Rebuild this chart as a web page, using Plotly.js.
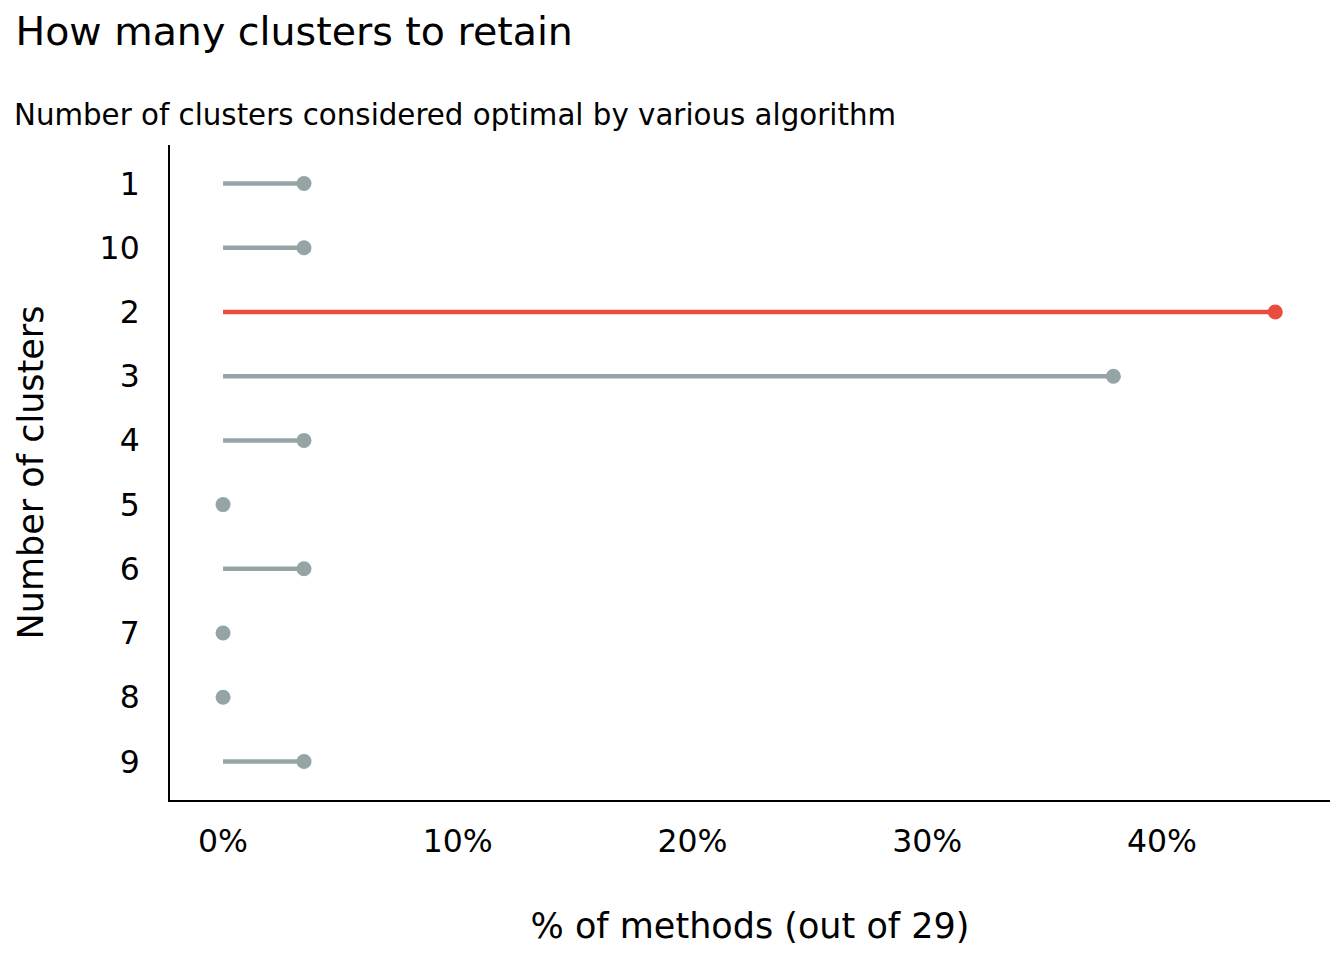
<!DOCTYPE html>
<html>
<head>
<meta charset="utf-8">
<script src="https://cdn.plot.ly/plotly-3.0.1.min.js"></script>
<style>
  html, body { margin: 0; padding: 0; background: #fff; }
  #chart { width: 1344px; height: 960px; }
</style>
</head>
<body>
<div id="chart"></div>
<script>
// number of clusters (as shown, sorted as text)
var clusters = ['1', '10', '2', '3', '4', '5', '6', '7', '8', '9'];
// how many of the 29 methods picked each
var counts = [1, 1, 13, 11, 1, 0, 1, 0, 0, 1];
var totalMethods = 29;
var best = '2';
var pctTicks = [0, 10, 20, 30, 40];

var grey = '#95A5A6';
var red = '#E74C3C';
var font = 'DejaVu Sans, sans-serif';

var pct = counts.map(function (c) { return c / totalMethods * 100; });

var data = [];
clusters.forEach(function (k, i) {
  var col = k === best ? red : grey;
  data.push({
    type: 'scatter', mode: 'lines',
    x: [0, pct[i]], y: [k, k],
    line: {color: col, width: 4.5},
    hoverinfo: 'skip', showlegend: false
  });
});
data.push({
  type: 'scatter', mode: 'markers',
  x: pct, y: clusters,
  marker: {
    size: 15,
    color: clusters.map(function (k) { return k === best ? red : grey; })
  },
  showlegend: false
});

var layout = {
  width: 1344, height: 960,
  paper_bgcolor: '#fff', plot_bgcolor: '#fff',
  font: {family: font, color: '#000', size: 31.5},
  margin: {l: 170, r: 14, t: 145, b: 160},
  title: {
    text: 'How many clusters to retain',
    font: {size: 39.5, family: font, color: '#000'},
    x: 0.0115, xref: 'container', xanchor: 'left',
    y: 0.968, yref: 'container', yanchor: 'middle'
  },
  annotations: [{
    text: 'Number of clusters considered optimal by various algorithm',
    xref: 'paper', yref: 'paper',
    x: -0.136, y: 1.046, xanchor: 'left', yanchor: 'middle',
    showarrow: false,
    font: {size: 29.3, family: font, color: '#000'}
  }],
  xaxis: {
    range: [-2.26, 47.16],
    tickvals: pctTicks,
    ticktext: pctTicks.map(function (v) { return v + '%'; }),
    showgrid: false, zeroline: false,
    showline: true, linecolor: '#000', linewidth: 2,
    ticks: '', ticklabelstandoff: 12,
    tickfont: {size: 31.5},
    title: {text: '% of methods (out of 29)', font: {size: 35}, standoff: 56}
  },
  yaxis: {
    type: 'category',
    categoryorder: 'array', categoryarray: clusters,
    range: [9.6, -0.6],
    showgrid: false, zeroline: false,
    showline: true, linecolor: '#000', linewidth: 2,
    ticks: '', ticklabelstandoff: 22,
    tickfont: {size: 31.5},
    title: {text: 'Number of clusters', font: {size: 35}, standoff: 45}
  }
};

Plotly.newPlot('chart', data, layout, {displayModeBar: false, staticPlot: true});
</script>
</body>
</html>
